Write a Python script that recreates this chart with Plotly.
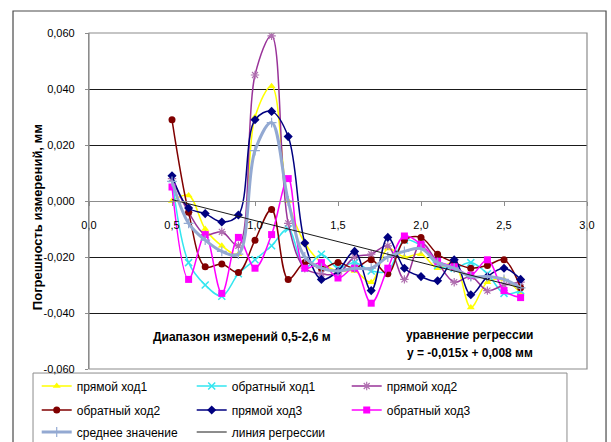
import plotly.graph_objects as go

# Measurement distance, m
distance = [0.5, 0.6, 0.7, 0.8, 0.9, 1.0, 1.1, 1.2, 1.3, 1.4, 1.5,
            1.6, 1.7, 1.8, 1.9, 2.0, 2.1, 2.2, 2.3, 2.4, 2.5, 2.6]

# Measurement errors, mm
forward_1 = [0.000, 0.002, -0.010, -0.016, -0.019, 0.030, 0.041, 0.000, -0.015, -0.022, -0.025,
             -0.025, -0.029, -0.017, -0.020, -0.019, -0.024, -0.022, -0.038, -0.029, -0.028, -0.033]
backward_1 = [0.008, -0.022, -0.030, -0.034, -0.026, -0.021, -0.016, -0.010, -0.024, -0.019, -0.024,
              -0.022, -0.025, -0.025, -0.014, -0.016, -0.023, -0.024, -0.022, -0.026, -0.033, -0.032]
forward_2 = [0.008, -0.004, -0.012, -0.011, -0.016, 0.045, 0.059, -0.008, -0.024, -0.026, -0.026,
             -0.020, -0.019, -0.016, -0.028, -0.015, -0.022, -0.029, -0.027, -0.032, -0.030, -0.029]
backward_2 = [0.029, -0.004, -0.0235, -0.0225, -0.0255, -0.014, -0.003, -0.028, -0.022, -0.024, -0.022,
              -0.024, -0.021, -0.026, -0.014, -0.013, -0.019, -0.022, -0.024, -0.023, -0.021, -0.031]
forward_3 = [0.009, -0.0025, -0.0045, -0.0075, -0.005, 0.029, 0.032, 0.023, -0.015, -0.028, -0.025,
             -0.018, -0.032, -0.013, -0.024, -0.027, -0.0285, -0.021, -0.0335, -0.027, -0.024, -0.028]
backward_3 = [0.005, -0.028, -0.012, -0.033, -0.013, -0.024, -0.012, 0.008, -0.024, -0.022, -0.0275,
              -0.024, -0.0365, -0.024, -0.0125, -0.0155, -0.0215, -0.0235, -0.0265, -0.021, -0.032, -0.0345]
mean_value = [0.007, -0.008, -0.014, -0.018, -0.019, 0.018, 0.028, 0.000, -0.020, -0.024, -0.025,
              -0.024, -0.024, -0.020, -0.018, -0.017, -0.022, -0.024, -0.027, -0.027, -0.028, -0.031]

# Regression y = k*x + b over the measured range
reg_k = -0.015
reg_b = 0.008
reg_x = [0.5, 2.6]

series_names = ["прямой ход1", "обратный ход1", "прямой ход2",
                "обратный ход2", "прямой ход3", "обратный ход3",
                "среднее значение", "линия регрессии"]

y_ticks = [0.06, 0.04, 0.02, 0.0, -0.02, -0.04, -0.06]
y_tick_labels = ["0,060", "0,040", "0,020", "0,000", "-0,020", "-0,040", "-0,060"]
x_ticks = [0.0, 0.5, 1.0, 1.5, 2.0, 2.5, 3.0]
x_tick_labels = ["0,0", "0,5", "1,0", "1,5", "2,0", "2,5", "3,0"]

FONT = "Liberation Sans Narrow, Liberation Sans, Arial, sans-serif"

fig = go.Figure()

# each legend row is its own legend so the rows can be spaced freely
rows = ["legend", "legend", "legend", "legend2", "legend2", "legend2", "legend3", "legend3"]

styles = [
    (forward_1, "#FFFF00", dict(symbol="triangle-up", size=7, color="#FFFF00")),
    (backward_1, "#33E6F0", dict(symbol="x-thin", size=7, color="#33E6F0",
                                 line=dict(color="#33E6F0", width=1.5))),
    (forward_2, "#993399", dict(symbol="asterisk", size=7, color="#993399",
                                line=dict(color="#B070B0", width=1.2))),
    (backward_2, "#800000", dict(symbol="circle", size=7, color="#800000")),
    (forward_3, "#000080", dict(symbol="diamond", size=7, color="#000080")),
    (backward_3, "#FF00FF", dict(symbol="square", size=7, color="#FF00FF")),
]

for i, ((vals, col, mk), name) in enumerate(zip(styles, series_names[:6])):
    fig.add_trace(go.Scatter(
        x=distance, y=vals, name=name, mode="lines+markers", legend=rows[i],
        line=dict(color=col, width=1.5, shape="spline", smoothing=1.0),
        marker=mk,
    ))

fig.add_trace(go.Scatter(
    x=distance, y=mean_value, name=series_names[6], mode="lines+markers",
    legend=rows[6],
    line=dict(color="#93A9D2", width=3, shape="spline", smoothing=1.0),
    marker=dict(symbol="cross-thin", size=7, color="#93A9D2",
                line=dict(color="#93A9D2", width=1.2)),
))

fig.add_trace(go.Scatter(
    x=reg_x, y=[reg_k * v + reg_b for v in reg_x], name=series_names[7],
    mode="lines", legend=rows[7], line=dict(color="#1A1A1A", width=1),
))

# plot frame and outer chart border
fig.add_shape(type="rect", xref="paper", yref="paper", x0=0, x1=1, y0=0, y1=1,
              line=dict(color="#8C8C8C", width=1.2), layer="above")
fig.add_shape(type="rect", xref="paper", yref="paper",
              x0=-0.1526, x1=1.0382, y0=-0.3, y1=1.0655,
              line=dict(color="#4A4A4A", width=1.2), layer="below")
# legend frame
fig.add_shape(type="rect", xref="paper", yref="paper",
              x0=-0.1124, x1=0.9598, y0=-0.25, y1=-0.012,
              line=dict(color="#8C8C8C", width=1), layer="below")

fig.add_annotation(x=-0.1044, y=0.452, xref="paper", yref="paper",
                   xanchor="center", yanchor="middle",
                   text="<b>Погрешность измерений, мм</b>", textangle=-90,
                   showarrow=False, font=dict(family=FONT, size=13, color="#000"))
fig.add_annotation(x=0.92, y=-0.0486, text="<b>Диапазон измерений 0,5-2,6 м</b>",
                   showarrow=False, font=dict(family=FONT, size=12, color="#000"))
fig.add_annotation(x=2.295, y=-0.0479, text="<b>уравнение регрессии</b>",
                   showarrow=False, font=dict(family=FONT, size=12, color="#000"))
fig.add_annotation(x=2.295, y=-0.0543,
                   text="<b>y = -0,015x + 0,008 мм</b>",
                   showarrow=False, font=dict(family=FONT, size=12, color="#000"))

legend_common = dict(
    orientation="h", xanchor="left", yanchor="middle", x=-0.105,
    entrywidth=110, entrywidthmode="pixels", itemwidth=30,
    font=dict(family=FONT, size=12, color="#000"),
    bgcolor="rgba(0,0,0,0)", traceorder="normal",
)

fig.update_layout(
    width=611, height=442,
    margin=dict(l=89, r=24, t=33, b=73, autoexpand=False),
    paper_bgcolor="#FFFFFF", plot_bgcolor="#FFFFFF",
    font=dict(family=FONT, size=11, color="#000"),
    showlegend=True,
    legend=dict(legend_common, y=-0.0506),
    legend2=dict(legend_common, y=-0.122),
    legend3=dict(legend_common, y=-0.1875),
    xaxis=dict(
        range=[0, 3], tickvals=x_ticks, ticktext=x_tick_labels,
        anchor="free", position=0.5,
        showline=True, linecolor="#8C8C8C", linewidth=1.2,
        ticks="outside", ticklen=4, tickcolor="#8C8C8C",
        ticklabelstandoff=10,
        showgrid=False, zeroline=False,
        tickfont=dict(family=FONT, size=11, color="#000"),
    ),
    yaxis=dict(
        range=[-0.06, 0.06], tickvals=y_ticks, ticktext=y_tick_labels,
        showline=True, linecolor="#8C8C8C", linewidth=1.2,
        ticks="outside", ticklen=3, tickcolor="#8C8C8C",
        ticklabelstandoff=8,
        showgrid=True, gridcolor="#1A1A1A", gridwidth=1,
        zeroline=True, zerolinecolor="#8C8C8C", zerolinewidth=1.2,
        tickfont=dict(family=FONT, size=11, color="#000"),
    ),
)

fig.write_html("out.html")
